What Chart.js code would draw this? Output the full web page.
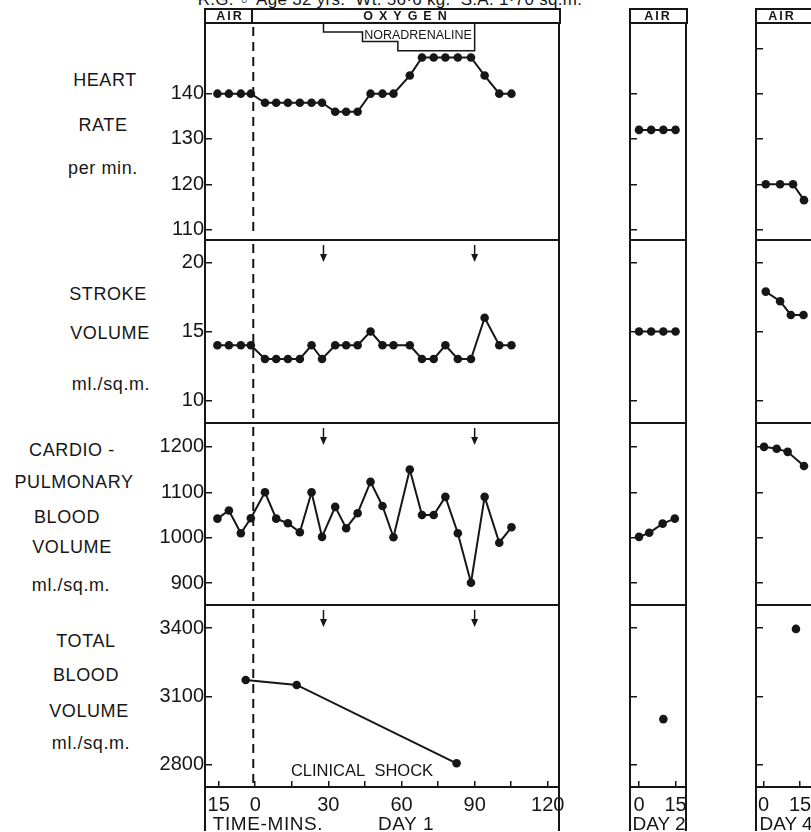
<!DOCTYPE html>
<html>
<head>
<meta charset="utf-8">
<script src="https://cdn.jsdelivr.net/npm/chart.js@4.4.1/dist/chart.umd.min.js"></script>
<style>
  body { margin: 0; width: 811px; height: 832px; overflow: hidden; background: #fff; position: relative;
         font-family: 'Liberation Sans', Arial, sans-serif; color: #161616; }
  canvas { position: absolute; }
  .t { position: absolute; white-space: nowrap; transform: translate(-50%, -50%); font-size: 18px; letter-spacing: 0.6px; }
  .hdr { position: absolute; top: 8px; height: 16px; border: 2px solid #161616; box-sizing: border-box; }
  .h { position: absolute; white-space: nowrap; transform: translate(-50%, -50%); font-size: 12.5px; font-weight: bold; letter-spacing: 2px; }
</style>
</head>
<body>
<div id="charts"></div>

<div class="t" style="left:390px;top:0px;font-size:17px;letter-spacing:0.3px">R.G. ♂ Age 32 yrs.&nbsp; Wt. 56·6 kg.&nbsp; S.A. 1·70 sq.m.</div>

<div class="hdr" style="left:204px;width:357px"></div>
<div style="position:absolute;left:251px;top:8px;width:2px;height:15px;background:#161616"></div>
<div class="h" style="left:230px;top:16px">AIR</div>
<div class="h" style="left:408px;top:16px;letter-spacing:6px">OXYGEN</div>
<div class="h" style="left:418px;top:35px;font-size:12.5px;letter-spacing:0;font-weight:normal">NORADRENALINE</div>
<div class="hdr" style="left:629px;width:59px"></div>
<div class="h" style="left:658px;top:16px">AIR</div>
<div class="hdr" style="left:755px;width:70px"></div>
<div class="h" style="left:782px;top:16px">AIR</div>

<div class="t" style="left:105px;top:80px">HEART</div>
<div class="t" style="left:103px;top:125px">RATE</div>
<div class="t" style="left:103px;top:168px">per min.</div>
<div class="t" style="left:108px;top:294px">STROKE</div>
<div class="t" style="left:110px;top:333px">VOLUME</div>
<div class="t" style="left:111px;top:384px">ml./sq.m.</div>
<div class="t" style="left:72px;top:450px">CARDIO -</div>
<div class="t" style="left:74px;top:482px">PULMONARY</div>
<div class="t" style="left:67px;top:517px">BLOOD</div>
<div class="t" style="left:72px;top:547px">VOLUME</div>
<div class="t" style="left:71px;top:585px">ml./sq.m.</div>
<div class="t" style="left:86px;top:641px">TOTAL</div>
<div class="t" style="left:86px;top:675px">BLOOD</div>
<div class="t" style="left:89px;top:711px">VOLUME</div>
<div class="t" style="left:91px;top:743px">ml./sq.m.</div>

<div class="t" style="left:362px;top:770px;font-size:16.5px;letter-spacing:0">CLINICAL&nbsp; SHOCK</div>
<div class="t" style="left:268px;top:824px;font-size:19px">TIME-MINS.</div>
<div class="t" style="left:406px;top:824px;font-size:19px">DAY 1</div>
<div class="t" style="left:659px;top:824px;font-size:19px;letter-spacing:0">DAY 2</div>
<div class="t" style="left:786px;top:824px;font-size:19px;letter-spacing:0">DAY 4</div>

<script>
const ink = '#161616';

// Day 1: minutes, measured every ~5 min
const day1Time = [-15.5, -10.8, -5.9, -1.8, 4.0, 8.6, 13.4, 18.3, 23.1, 27.4, 32.8, 37.3, 42.0,
                  47.3, 52.2, 56.7, 63.4, 68.4, 73.2, 78.0, 83.1, 88.5, 94.1, 100.1, 105.1];
const day1HeartRate = [140, 140, 140, 140, 138, 138, 138, 138, 138, 138, 136, 136, 136,
                       140, 140, 140, 144, 148, 148, 148, 148, 148, 144, 140, 140];
const day1Stroke = [14, 14, 14, 14, 13, 13, 13, 13, 14, 13, 14, 14, 14,
                    15, 14, 14, 14, 13, 13, 14, 13, 13, 16, 14, 14];
const day1Cpbv = [1042, 1060, 1010, 1043, 1100, 1042, 1032, 1012, 1100, 1002, 1068, 1021, 1054,
                  1123, 1070, 1001, 1150, 1050, 1050, 1090, 1010, 901, 1090, 989, 1023];
const day1TbvTime = [-3.9, 17.0, 82.6];
const day1Tbv = [3173, 3151, 2807];

// Day 2
const day2Time = [0, 5, 10, 15];
const day2HeartRate = [132, 132, 132, 132];
const day2Stroke = [15, 15, 15, 15];
const day2CpbvTime = [0, 4.2, 9.7, 14.7];
const day2Cpbv = [1002, 1011, 1031, 1042];
const day2TbvTime = [10];
const day2Tbv = [3001];

// Day 4
const day4HrTime = [0.9, 6.8, 12.1, 16.6];
const day4HeartRate = [120, 120, 120, 116.5];
const day4SvTime = [0.9, 6.8, 11.2, 16.4];
const day4Stroke = [17.9, 17.2, 16.2, 16.2];
const day4CpbvTime = [0.2, 5.4, 9.9, 16.6];
const day4Cpbv = [1200, 1196, 1189, 1158];
const day4TbvTime = [13.3];
const day4Tbv = [3397];

// axes
const day1Ticks = [-15, 0, 15, 30, 45, 60, 75, 90, 105, 120];
const day1TickLabels = ['15', '0', '', '30', '', '60', '', '90', '', '120'];
const dayNTicks = [0, 15];
const dayNTickLabels = ['0', '15'];
const hrTicks = [110, 120, 130, 140];
const hrTicksDay4 = [110, 120, 130, 140, 150];
const svTicks = [10, 15, 20];
const cpbvTicks = [900, 1000, 1100, 1200];
const tbvTicks = [2800, 3100, 3400];

// events
const changeTime = -0.8;          // air -> oxygen
const arrowTimes = [28, 90];
const noradSteps = [28, 44, 58.5, 90];

const deco = {
  id: 'deco',
  afterDatasetsDraw(chart, args, o) {
    const { ctx, chartArea: a } = chart;
    const x = chart.scales.x;
    ctx.save();
    ctx.strokeStyle = ink;
    ctx.fillStyle = ink;
    ctx.lineWidth = 2;
    ctx.strokeRect(a.left, a.top, a.right - a.left, a.bottom - a.top);
    if (o.strip) {
      ctx.beginPath();
      ctx.moveTo(a.left, a.bottom); ctx.lineTo(a.left, chart.height);
      ctx.moveTo(a.right, a.bottom); ctx.lineTo(a.right, chart.height);
      ctx.stroke();
    }
    if (o.dash) {
      const px = x.getPixelForValue(changeTime);
      ctx.setLineDash([9, 6]);
      ctx.beginPath(); ctx.moveTo(px, a.top + 4); ctx.lineTo(px, a.bottom - 4); ctx.stroke();
      ctx.setLineDash([]);
    }
    if (o.arrows) {
      ctx.lineWidth = 1.5;
      arrowTimes.forEach(t => {
        const px = x.getPixelForValue(t);
        ctx.beginPath(); ctx.moveTo(px, a.top + 5); ctx.lineTo(px, a.top + 17); ctx.stroke();
        ctx.beginPath();
        ctx.moveTo(px - 3.5, a.top + 14); ctx.lineTo(px, a.top + 22); ctx.lineTo(px + 3.5, a.top + 14);
        ctx.closePath(); ctx.fill();
      });
    }
    if (o.norad) {
      const [p0, p1, p2, p3] = noradSteps.map(t => x.getPixelForValue(t));
      const y = a.top;
      ctx.lineWidth = 1.5;
      ctx.beginPath();
      ctx.moveTo(p0, y); ctx.lineTo(p0, y + 9); ctx.lineTo(p1, y + 9); ctx.lineTo(p1, y + 18.5);
      ctx.lineTo(p2, y + 18.5); ctx.lineTo(p2, y + 27.7); ctx.lineTo(p3, y + 27.7); ctx.lineTo(p3, y);
      ctx.stroke();
    }
    ctx.restore();
  }
};

function series(xs, ys) {
  return {
    data: xs.map((t, i) => ({ x: t, y: ys[i] })),
    borderColor: ink, backgroundColor: ink, borderWidth: 2,
    pointRadius: 4.3, pointBackgroundColor: ink, pointBorderWidth: 0, tension: 0
  };
}

const cols = [
  { L: 205, R: 559, axisW: 52, padR: 14, xMin: -20.6, xMax: 124.6, xTicks: day1Ticks, xLabels: day1TickLabels, yLabels: true, dash: true },
  { L: 630, R: 686, axisW: 6, padR: 10, xMin: -3.7, xMax: 19.3, xTicks: dayNTicks, xLabels: dayNTickLabels, yLabels: false },
  { L: 756, R: 813, axisW: 6, padR: 4, xMin: -3.1, xMax: 20.3, xTicks: dayNTicks, xLabels: dayNTickLabels, yLabels: false }
];
const rows = [
  { top: 23, bottom: 240, yMin: 107.7, yMax: 155.6 },
  { top: 240, bottom: 423, yMin: 8.35, yMax: 21.65 },
  { top: 423, bottom: 605, yMin: 852, yMax: 1252.5 },
  { top: 605, bottom: 787, yMin: 2703, yMax: 3502 }
];
const stripH = 44;

function panel(ci, ri, datasets, yTicks, extra) {
  const col = cols[ci], row = rows[ri];
  const last = ri === rows.length - 1;
  const w = col.axisW + (col.R - col.L) + col.padR;
  const h = (row.bottom - row.top) + (last ? stripH : 0);
  const c = document.createElement('canvas');
  c.width = w; c.height = h;
  c.style.left = (col.L - col.axisW) + 'px';
  c.style.top = row.top + 'px';
  document.getElementById('charts').appendChild(c);

  return new Chart(c, {
    type: 'line',
    data: { datasets },
    options: {
      responsive: false,
      animation: false,
      events: [],
      layout: { autoPadding: false, padding: { top: 0, right: col.padR, bottom: 0, left: 0 } },
      plugins: {
        legend: { display: false },
        tooltip: { enabled: false },
        deco: Object.assign({ strip: last, dash: !!col.dash }, extra)
      },
      scales: {
        x: {
          type: 'linear', min: col.xMin, max: col.xMax, display: last,
          afterBuildTicks: s => { s.ticks = col.xTicks.map(v => ({ value: v })); },
          afterFit: s => { s.height = last ? stripH : 0; s.paddingLeft = 0; s.paddingRight = 0; },
          grid: { drawOnChartArea: false, tickLength: -6, color: ink, lineWidth: 1.5 },
          border: { display: true, color: ink, width: 2 },
          ticks: {
            padding: 12, autoSkip: false, maxRotation: 0, color: ink,
            font: { family: 'Liberation Sans', size: 20 },
            callback: (v, i) => col.xLabels[i]
          }
        },
        y: {
          type: 'linear', min: row.yMin, max: row.yMax,
          afterBuildTicks: s => { s.ticks = yTicks.map(v => ({ value: v })); },
          afterFit: s => { s.width = col.axisW; s.paddingTop = 0; s.paddingBottom = 0; },
          grid: { drawOnChartArea: false, tickLength: -7, color: ink, lineWidth: 1.5 },
          border: { display: true, color: ink, width: 2 },
          ticks: {
            display: col.yLabels, padding: 8, color: ink,
            font: { family: 'Liberation Sans', size: 20 },
            callback: v => String(v)
          }
        }
      }
    },
    plugins: [deco]
  });
}

// Day 1
panel(0, 0, [series(day1Time, day1HeartRate)], hrTicks, { norad: true });
panel(0, 1, [series(day1Time, day1Stroke)], svTicks, { arrows: true });
panel(0, 2, [series(day1Time, day1Cpbv)], cpbvTicks, { arrows: true });
panel(0, 3, [series(day1TbvTime, day1Tbv)], tbvTicks, { arrows: true });
// Day 2
panel(1, 0, [series(day2Time, day2HeartRate)], hrTicks, {});
panel(1, 1, [series(day2Time, day2Stroke)], svTicks, {});
panel(1, 2, [series(day2CpbvTime, day2Cpbv)], cpbvTicks, {});
panel(1, 3, [series(day2TbvTime, day2Tbv)], tbvTicks, {});
// Day 4
panel(2, 0, [series(day4HrTime, day4HeartRate)], hrTicksDay4, {});
panel(2, 1, [series(day4SvTime, day4Stroke)], svTicks, {});
panel(2, 2, [series(day4CpbvTime, day4Cpbv)], cpbvTicks, {});
panel(2, 3, [series(day4TbvTime, day4Tbv)], tbvTicks, {});
</script>
</body>
</html>
